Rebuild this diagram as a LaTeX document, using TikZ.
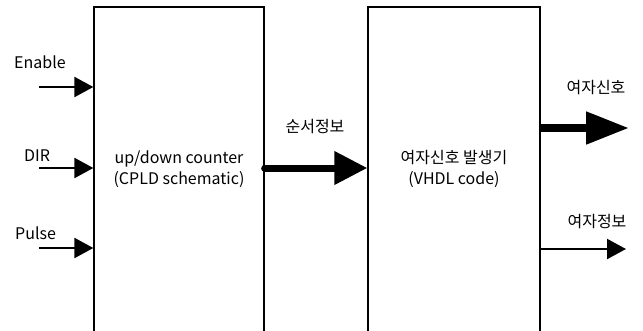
\documentclass[tikz,border=0pt]{standalone}
\usepackage{fontspec}
\setmainfont{Noto Sans CJK KR}
\usetikzlibrary{arrows.meta}
\begin{document}
\begin{tikzpicture}[x=1pt,y=-1pt,
  blk/.style={draw,line width=1.3pt,minimum width=#1,minimum height=346pt,inner sep=0pt},
  lbl/.style={font=\fontsize{16}{18}\selectfont,inner sep=0pt},
  thinarrow/.style={line width=2.2pt,-{Triangle[length=19pt,width=20pt]}},
  midarrow/.style={line width=7pt,line cap=round,-{Triangle[length=33pt,width=32pt]}},
  bigarrow/.style={line width=8pt,-{Triangle[length=43pt,width=31pt]}}]
\clip (0,0) rectangle (643,330);
\node[blk=170pt] (c1) at (179,180) {};
\node[blk=172pt] (c2) at (454,180) {};
\node[lbl,align=center] (t1) at (179,169) {up/down counter\\[3pt](CPLD schematic)};
\node[lbl,align=center] (t2) at (454,169) {여자신호 발생기\\[3pt](VHDL code)};
% inputs
\node[lbl,anchor=west] (en) at (14,62) {Enable};
\node[lbl,anchor=west] (dir) at (24,156) {DIR};
\node[lbl,anchor=west] (pu) at (15,233) {Pulse};
\coordinate (i1) at (39,87);
\coordinate (i2) at (39,168);
\coordinate (i3) at (39,248);
\draw[thinarrow] (i1) -- (i1 -| c1.west);
\draw[thinarrow] (i2) -- (i2 -| c1.west);
\draw[thinarrow] (i3) -- (i3 -| c1.west);
% middle
\coordinate (m) at (264,168);
\draw[midarrow] (m -| c1.east) -- (m -| c2.west);
\node[lbl] (sj) at (315,127) {순서정보};
% outputs
\coordinate (o1) at (629,128);
\coordinate (o2) at (626,249);
\draw[bigarrow] (o1 -| c2.east) -- (o1);
\draw[thinarrow] (o2 -| c2.east) -- (o2);
\node[lbl] (os) at (596,88) {여자신호};
\node[lbl] (oi) at (597,222) {여자정보};
\end{tikzpicture}
\end{document}
